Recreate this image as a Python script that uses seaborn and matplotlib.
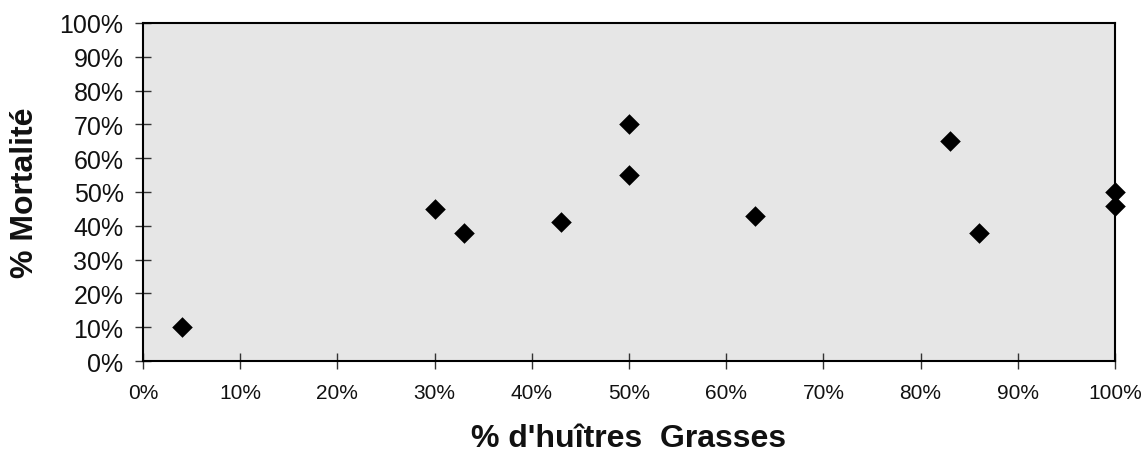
import matplotlib
matplotlib.use("Agg")
import matplotlib.pyplot as plt
import seaborn as sns
import pandas as pd
from matplotlib.ticker import PercentFormatter, MultipleLocator

# Data (percentages)
grasses = [4, 30, 33, 43, 50, 50, 63, 83, 86, 100, 100]
mortalite = [10, 45, 38, 41, 70, 55, 43, 65, 38, 50, 46]

df = pd.DataFrame({"grasses": grasses, "mortalite": mortalite})

sns.set_theme(style="white")
plt.rcParams['font.family'] = ['Liberation Sans', 'DejaVu Sans']

fig = plt.figure(figsize=(11.45, 4.52), dpi=100)
ax = fig.add_axes([143/1145, 1 - 362/452, (1115-143)/1145, (362-24)/452])
ax.set_facecolor("#e6e6e6")

sns.scatterplot(data=df, x="grasses", y="mortalite", marker="D", s=110,
                color="black", edgecolor="black", linewidth=0, ax=ax,
                clip_on=False, zorder=5)

ax.set_xlim(0, 100)
ax.set_ylim(0, 100)
ax.xaxis.set_major_locator(MultipleLocator(10))
ax.yaxis.set_major_locator(MultipleLocator(10))
ax.xaxis.set_major_formatter(PercentFormatter(decimals=0))
ax.yaxis.set_major_formatter(PercentFormatter(decimals=0))

for s in ax.spines.values():
    s.set_color("black")
    s.set_linewidth(1.5)

ax.tick_params(axis="both", which="major", bottom=True, left=True,
               direction="inout", length=12, width=1,
               color="#333333", labelcolor="#111111")
ax.tick_params(axis="x", labelsize=15, pad=10)
ax.tick_params(axis="y", labelsize=18, pad=8)

ax.set_xlabel("% d'huîtres  Grasses", fontsize=23, fontweight="bold",
              color="#111111", labelpad=15)
ax.set_ylabel("% Mortalité", fontsize=23, fontweight="bold",
              color="#111111")
ax.yaxis.set_label_coords(-(143-40)/972, 0.5)

fig.savefig("out.png", dpi=100)
